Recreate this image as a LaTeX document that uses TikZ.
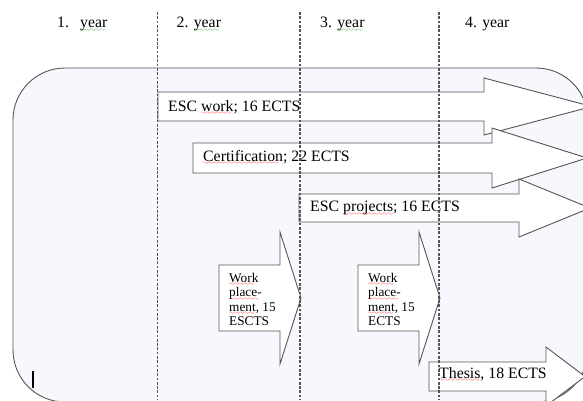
\documentclass[tikz,border=0pt]{standalone}
\usepackage{fontspec}
\setmainfont{Liberation Serif}
\font\sqfont=lasy6
\newsavebox\sqbox
\newcommand\wavyline[2]{\sbox\sqbox{#2}\rlap{\color{#1}\lower3.5pt\hbox to\wd\sqbox{\leaders\hbox{\sqfont\char58}\hfill}}\usebox\sqbox}
\newcommand\spellsq[1]{\wavyline{red}{#1}}
\newcommand\gramsq[1]{\wavyline{green!55!black}{#1}}
\definecolor{framefill}{HTML}{F7F8FD}
\definecolor{outline}{HTML}{555555}
\definecolor{dashcol}{HTML}{555555}
\tikzset{
  arrowshape/.style={draw=outline, fill=white, line width=0.9pt, line join=miter},
  framebox/.style={draw=outline, fill=framefill, line width=0.9pt, rounded corners=52pt},
  lbl/.style={anchor=base west, inner sep=0pt, font=\fontsize{15.8}{19}\selectfont},
  wplbl/.style={anchor=north west, inner sep=0pt, align=left, font=\fontsize{13.3}{14.5}\selectfont},
  yearline/.style={draw=dashcol, line width=1.1pt, dash pattern=on 2.7pt off 1.6pt},
}
% x1 x2 xtip yc halfbody halfhead
\newcommand\blockarrow[6]{%
  \draw[arrowshape] (#1,#4-#5) -- (#2,#4-#5) -- (#2,#4-#6) -- (#3,#4)
    -- (#2,#4+#6) -- (#2,#4+#5) -- (#1,#4+#5) -- cycle;}
\begin{document}
\begin{tikzpicture}[x=1pt,y=-1pt]
\useasboundingbox (0,0) rectangle (583,400);
\clip (0,0) rectangle (583,400);
% frame
\draw[framebox] (13,68) rectangle (588,402);
% year labels
\node[lbl] (y1) at (57,27.5) {1.\hspace*{11.1pt}\gramsq{year}};
\node[lbl] (y2) at (176.5,27.5) {2. \gramsq{year}};
\node[lbl] (y3) at (320,27.5) {3. \gramsq{year}};
\node[lbl] (y4) at (465,27.5) {4. year};
% arrows
\blockarrow{158}{484}{592}{106.5}{14.5}{28.5}
\node[lbl] (escwork) at (168,111) {ESC \spellsq{work}; 16 ECTS};
\blockarrow{193}{492}{587}{158}{15}{30}
\node[lbl] (cert) at (203,161) {\spellsq{Certification}; 22 ECTS};
\blockarrow{299}{519}{590}{208}{14}{29}
\node[lbl] (escproj) at (310,211.5) {ESC \spellsq{projects}; 16 ECTS};
\blockarrow{219}{280}{301}{298}{33}{66}
\node[wplbl] (wp1) at (229,273) {\spellsq{Work}\\\spellsq{place-}\\\spellsq{ment,} 15\\ESCTS};
\blockarrow{358}{419}{440}{298}{33}{66}
\node[wplbl] (wp2) at (368,273) {\spellsq{Work}\\\spellsq{place-}\\\spellsq{ment,} 15\\ECTS};
\blockarrow{429}{546}{585}{376.5}{14.5}{29.5}
\node[lbl] (thesis) at (439,378) {\spellsq{Thesis}, 18 ECTS};
% year separators
\foreach \i/\xx in {1/157.5,2/300,3/439}{
  \coordinate (d\i t) at (\xx,12);
  \coordinate (d\i b) at (\xx,400);
  \draw[yearline] (d\i t) -- (d\i b);
}
% text cursor
\coordinate (cur1) at (33,371);
\coordinate (cur2) at (33,388);
\draw[line width=1.6pt] (cur1) -- (cur2);
\end{tikzpicture}
\end{document}
